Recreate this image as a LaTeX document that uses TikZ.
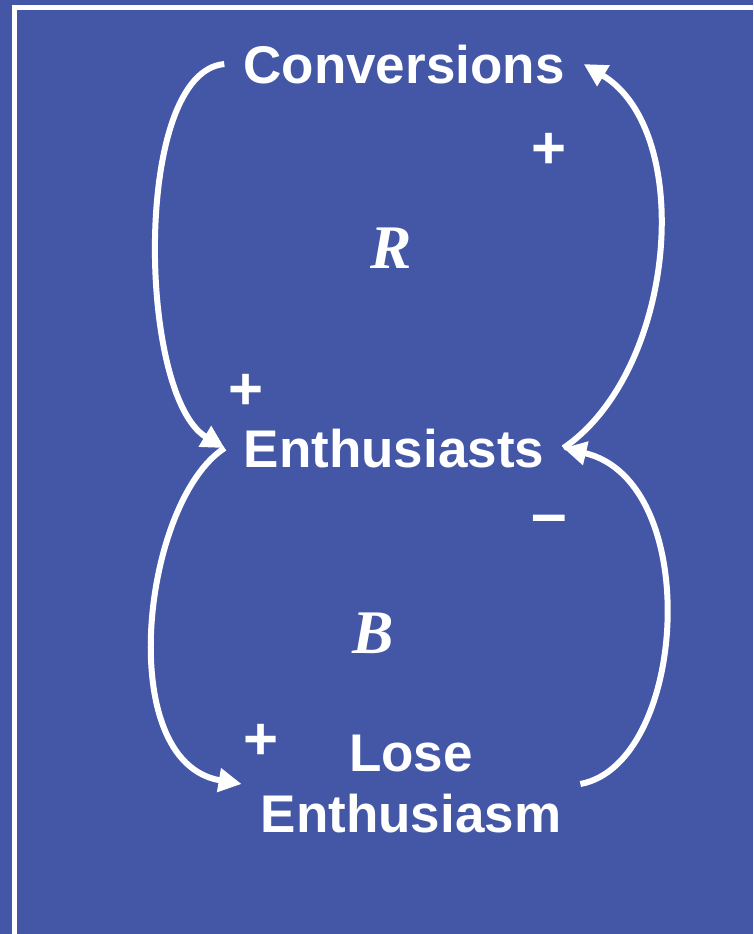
\documentclass[tikz,border=0pt]{standalone}
\usepackage{fontspec}
\setmainfont{Liberation Sans}
\newfontfamily\loopfont{Liberation Serif}
\usetikzlibrary{arrows.meta}
\definecolor{cbg}{HTML}{4357A6}

\begin{document}
\begin{tikzpicture}[x=1pt, y=-1pt,
    varbox/.style={text=white, font=\fontsize{53}{61}\selectfont\bfseries, inner xsep=19pt, inner ysep=0pt, align=center},
    polarity/.style={text=white, font=\fontsize{60}{60}\selectfont\bfseries, inner sep=0pt},
    looplabel/.style={text=white, font=\fontsize{62}{62}\selectfont\loopfont\bfseries\itshape, inner sep=0pt},
    link/.style={white, line width=6pt, -{Triangle[length=23pt, width=23pt]}}]
  \useasboundingbox (0,0) rectangle (753,934);
  \fill[cbg] (0,0) rectangle (753,934);
  \draw[white, line width=5pt] (14,934) -- (14,8) -- (753,8);

  \node[varbox, anchor=base] (conv) at (404,83) {Conversions};
  \node[varbox, anchor=base] (enth) at (394,467) {Enthusiasts};
  \node[varbox] (lose) at (411,784) {Lose\\Enthusiasm};

  \draw[link] (conv.west) .. controls +(-92,8) and +(-87,-52) .. (enth.west);
  \draw[link] (enth.east) .. controls +(113,-77) and +(112,67) .. (conv.east);
  \draw[link] (enth.west) .. controls +(-82,53) and +(-129,-22) .. (lose.west);
  \draw[link] (lose.east) .. controls +(107,-20) and +(141,33) .. (enth.east);

  \node[polarity] (p1) at (549,151) {+};
  \node[polarity] (p2) at (246,392) {+};
  \node[polarity] (p3) at (261,742) {+};
  \node[polarity, font=\fontsize{64}{64}\selectfont\bfseries] (m1) at (549,525) {\textendash};

  \node[looplabel, anchor=base] (rloop) at (391,268) {R};
  \node[looplabel, anchor=base] (bloop) at (373,653) {B};
\end{tikzpicture}
\end{document}
